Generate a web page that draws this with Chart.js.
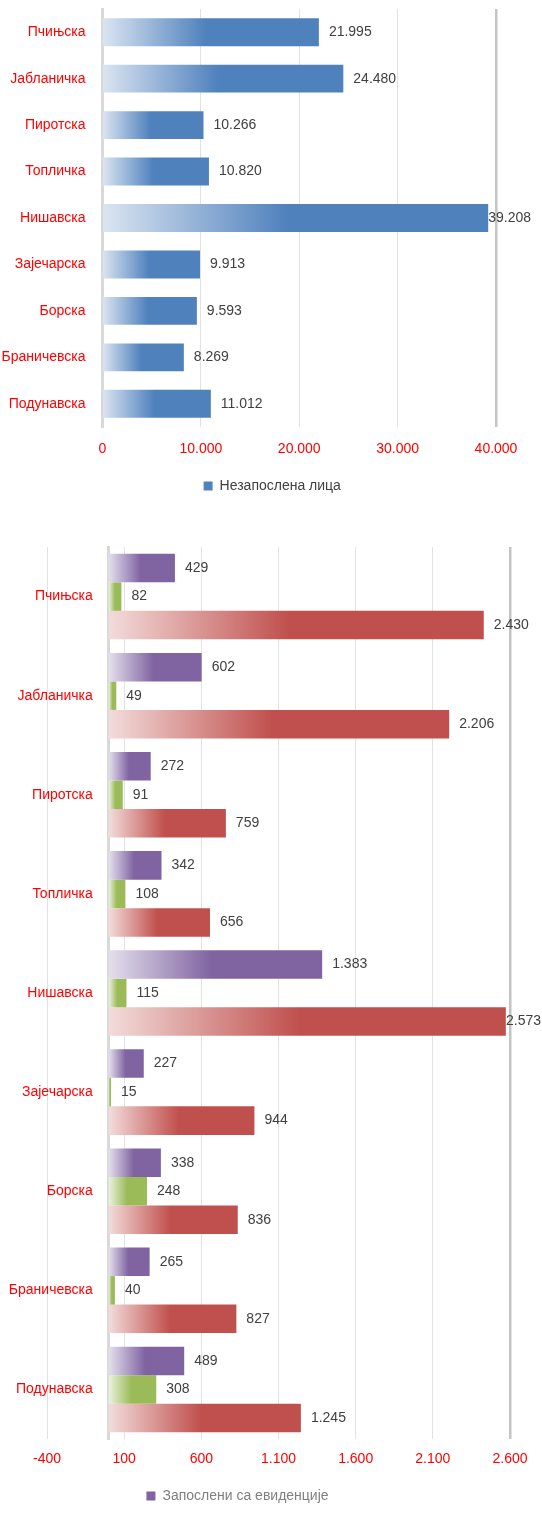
<!DOCTYPE html>
<html lang="sr">
<head>
<meta charset="utf-8">
<title>Незапослена лица и запослени са евиденције по окрузима</title>
<script src="https://cdn.jsdelivr.net/npm/chart.js@4.4.1/dist/chart.umd.min.js"></script>
<style>
  html, body { margin: 0; padding: 0; background: #fff; }
  .box { position: relative; width: 542px; }
  #top-box { height: 503px; }
  #bottom-box { height: 1010px; }
</style>
</head>
<body>
<div class="box" id="top-box"><canvas id="top-chart"></canvas></div>
<div class="box" id="bottom-box"><canvas id="bottom-chart"></canvas></div>
<script>
// districts, top to bottom
const regions = ['Пчињска', 'Јабланичка', 'Пиротска', 'Топличка', 'Нишавска',
                 'Зајечарска', 'Борска', 'Браничевска', 'Подунавска'];

// upper chart
const unemployed = [21995, 24480, 10266, 10820, 39208, 9913, 9593, 8269, 11012];

// lower chart, three bars per district
const employedFromRegister = [429, 602, 272, 342, 1383, 227, 338, 265, 489];
const secondSeries = [82, 49, 91, 108, 115, 15, 248, 40, 308];
const thirdSeries = [2430, 2206, 759, 656, 2573, 944, 836, 827, 1245];

// value axes
const topAxis = { min: 0, max: 40000, step: 10000 };
const bottomAxis = { min: -400, max: 2600, step: 500 };

Chart.defaults.font.family = '"Liberation Sans", Arial, sans-serif';
Chart.defaults.font.size = 14;

// 12345 -> "12.345"
function fmt(v) {
    const s = String(Math.abs(Math.round(v))).replace(/\B(?=(\d{3})+(?!\d))/g, '.');
    return (v < 0 ? '-' : '') + s;
}

// bar fill fading from a pale tint at the base to the full colour about halfway
function fadeFill(tint, solid) {
    return function (c) {
        if (c.type !== 'data') return solid;
        const x = c.chart.scales.x;
        const x0 = x.getPixelForValue(0);
        const x1 = x.getPixelForValue(c.raw);
        if (!isFinite(x0) || !isFinite(x1) || Math.abs(x1 - x0) < 1) return solid;
        const g = c.chart.ctx.createLinearGradient(x0, 0, x1, 0);
        g.addColorStop(0, tint);
        g.addColorStop(0.48, solid);
        g.addColorStop(1, solid);
        return g;
    };
}

// district names left of the zero line
const regionLabels = {
    id: 'regionLabels',
    afterDraw(chart, args, opts) {
        const { ctx, scales: { x, y } } = chart;
        const x0 = x.getPixelForValue(0);
        ctx.save();
        ctx.font = '14px "Liberation Sans", Arial, sans-serif';
        ctx.fillStyle = '#ff0000';
        ctx.textAlign = 'right';
        ctx.textBaseline = 'middle';
        chart.data.labels.forEach(function (lab, i) {
            ctx.fillText(lab, x0 - opts.gap, y.getPixelForValue(i));
        });
        ctx.restore();
    }
};

// numbers after the bar ends
const valueLabels = {
    id: 'valueLabels',
    afterDatasetsDraw(chart, args, opts) {
        const ctx = chart.ctx;
        ctx.save();
        ctx.font = '14px "Liberation Sans", Arial, sans-serif';
        ctx.fillStyle = '#404040';
        ctx.textAlign = 'left';
        ctx.textBaseline = 'middle';
        chart.data.datasets.forEach(function (ds, di) {
            const meta = chart.getDatasetMeta(di);
            if (meta.hidden) return;
            meta.data.forEach(function (bar, i) {
                const text = fmt(ds.data[i]);
                const w = ctx.measureText(text).width;
                ctx.fillText(text, Math.min(bar.x + opts.gap, opts.limit - w), bar.y);
            });
        });
        ctx.restore();
    }
};

// nudge the legend row sideways
const legendShift = {
    id: 'legendShift',
    afterLayout(chart, args, opts) {
        if (chart.legend && opts.dx) {
            chart.legend.left += opts.dx;
            chart.legend.right += opts.dx;
        }
    }
};

function options(axis, o) {
    return {
        indexAxis: 'y',
        responsive: true,
        maintainAspectRatio: false,
        animation: false,
        layout: { padding: o.padding },
        scales: {
            x: {
                min: axis.min,
                max: axis.max,
                ticks: {
                    stepSize: axis.step,
                    color: '#ff0000',
                    padding: o.tickPad,
                    maxRotation: 0,
                    autoSkip: false,
                    callback: function (v) { return fmt(v); }
                },
                grid: {
                    drawTicks: false,
                    color: function (c) { return c.tick && c.tick.value === axis.max ? '#c4c4c4' : '#e2e2e2'; },
                    lineWidth: function (c) { return c.tick && c.tick.value === axis.max ? 2.5 : 1; }
                },
                border: { display: false },
                afterFit: function (s) { s.height = o.axisHeight; }
            },
            y: {
                position: { x: 0 },
                grid: { display: false, drawTicks: false },
                ticks: { display: false },
                border: { display: true, color: '#d9d9d9', width: 3 }
            }
        },
        plugins: {
            legend: {
                position: 'bottom',
                labels: {
                    boxWidth: 9,
                    boxHeight: 9,
                    padding: 10,
                    color: o.legendColor,
                    filter: function (item) { return item.datasetIndex === 0; }
                }
            },
            tooltip: { enabled: false },
            regionLabels: { gap: o.labelGap },
            valueLabels: { gap: 10, limit: o.labelLimit },
            legendShift: { dx: o.legendDx }
        }
    };
}

new Chart(document.getElementById('top-chart'), {
    type: 'bar',
    data: {
        labels: regions,
        datasets: [{
            label: 'Незапослена лица',
            data: unemployed,
            backgroundColor: fadeFill('#dbe5f1', '#4f81bd'),
            categoryPercentage: 0.6,
            barPercentage: 1
        }]
    },
    options: options(topAxis, {
        padding: { top: 9, left: 102.5, right: 46, bottom: 0 },
        tickPad: 14, axisHeight: 42, legendColor: '#404040',
        labelGap: 17, labelLimit: 531, legendDx: -27
    }),
    plugins: [regionLabels, valueLabels, legendShift]
});

new Chart(document.getElementById('bottom-chart'), {
    type: 'bar',
    data: {
        labels: regions,
        datasets: [
            {
                label: 'Запослени са евиденције',
                data: employedFromRegister,
                backgroundColor: fadeFill('#e4dfec', '#8064a2'),
                categoryPercentage: 0.863,
                barPercentage: 1
            },
            {
                label: 'Серија 2',
                data: secondSeries,
                backgroundColor: fadeFill('#ebf1dd', '#9bbb59'),
                categoryPercentage: 0.863,
                barPercentage: 1
            },
            {
                label: 'Серија 3',
                data: thirdSeries,
                backgroundColor: fadeFill('#f2dcdb', '#c0504d'),
                categoryPercentage: 0.863,
                barPercentage: 1
            }
        ]
    },
    options: options(bottomAxis, {
        padding: { top: 44, left: 47, right: 32, bottom: 0 },
        tickPad: 12, axisHeight: 40, legendColor: '#7f7f7f',
        labelGap: 16, labelLimit: 541, legendDx: -41
    }),
    plugins: [regionLabels, valueLabels, legendShift]
});
</script>
</body>
</html>
